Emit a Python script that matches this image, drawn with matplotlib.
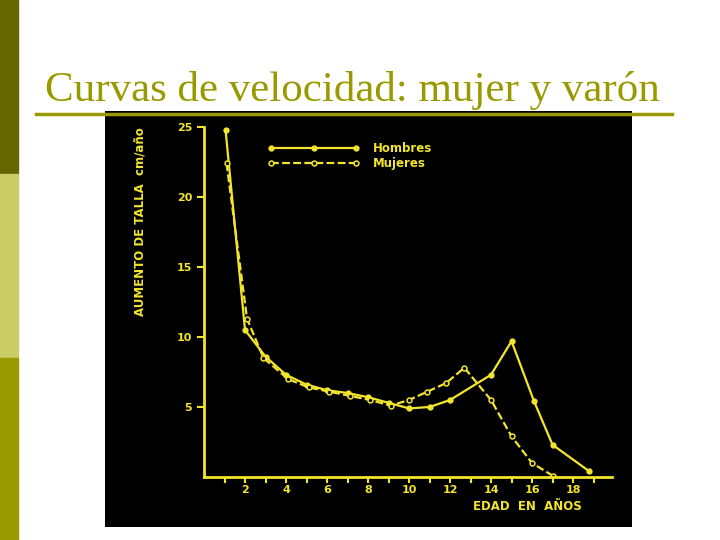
import matplotlib.pyplot as plt
from matplotlib.patches import Rectangle
from matplotlib.lines import Line2D

# Datos (velocidad de crecimiento, cm/año)
edad_hombres = [1.05, 2, 3, 4, 5, 6, 7, 8, 9, 10, 11, 12, 14, 15, 16.1, 17, 18.8]
vel_hombres = [24.8, 10.5, 8.6, 7.3, 6.6, 6.2, 6.0, 5.7, 5.3, 4.9, 5.0, 5.5, 7.3, 9.7, 5.4, 2.3, 0.4]

edad_mujeres = [1.1, 2.1, 2.9, 4.1, 5.1, 6.1, 7.1, 8.1, 9.1, 10, 10.9, 11.8, 12.7, 14, 15, 16, 17]
vel_mujeres = [22.4, 11.3, 8.5, 7.0, 6.4, 6.1, 5.8, 5.5, 5.1, 5.5, 6.1, 6.7, 7.8, 5.5, 2.9, 1.0, 0.1]

yticks = [5, 10, 15, 20, 25]
xticks = [2, 4, 6, 8, 10, 12, 14, 16, 18]

amarillo = '#f2e52c'
oliva = '#999900'
W, H = 720, 540

fig = plt.figure(figsize=(7.2, 5.4), dpi=100)
fig.patch.set_facecolor('white')

# barra lateral de la diapositiva
for y0, y1, c in [(0, 174, '#666600'), (174, 358, '#cccc66'), (358, 540, '#999900')]:
    fig.patches.append(Rectangle((0, 1 - y1 / H), 18 / W, (y1 - y0) / H,
                                 transform=fig.transFigure, color=c))

# título y línea
fig.text(45 / W, 1 - 101 / H, 'Curvas de velocidad: mujer y varón',
         family='Liberation Serif', fontsize=31, color=oliva, ha='left', va='baseline')
fig.add_artist(Line2D([36 / W, 672 / W], [1 - 114 / H, 1 - 114 / H],
                      transform=fig.transFigure, color=oliva, lw=2.5))

# fondo negro de la imagen
panel = fig.add_axes([105 / W, 1 - 527 / H, 527 / W, 416 / H])
panel.set_facecolor('black')
panel.set_xticks([])
panel.set_yticks([])
for s in panel.spines.values():
    s.set_visible(False)

# gráfico
ax = fig.add_axes([204 / W, 1 - 477 / H, 408 / W, 350 / H])
ax.patch.set_alpha(0)
ax.plot(edad_hombres, vel_hombres, color=amarillo, lw=1.6, marker='o', ms=3.5,
        mfc=amarillo, mec=amarillo, label='Hombres')
ax.plot(edad_mujeres, vel_mujeres, color=amarillo, lw=1.6, ls=(0, (3.5, 1.5)), marker='o', ms=3.5,
        mfc='black', mec=amarillo, mew=1.1, label='Mujeres')

ax.set_xlim(0, 19.9)
ax.set_ylim(0, 25)
ax.spines['top'].set_visible(False)
ax.spines['right'].set_visible(False)
ax.spines['left'].set_color(amarillo)
ax.spines['bottom'].set_color(amarillo)
ax.spines['left'].set_linewidth(2)
ax.spines['bottom'].set_linewidth(2)
ax.set_yticks(yticks)
ax.set_yticklabels([str(v) for v in yticks])
ax.set_xticks(range(1, 20), minor=True)
ax.set_xticks(xticks)
ax.set_xticklabels([str(v) for v in xticks])
ax.tick_params(colors=amarillo, width=1.5, length=5, labelsize=8)
ax.tick_params(axis='x', which='both', length=4, width=1.5, color=amarillo, pad=2)
for t in ax.get_xticklabels() + ax.get_yticklabels():
    t.set_fontweight('bold')

ax.legend(loc='upper left', bbox_to_anchor=(262 / W, 1 - 136 / H), bbox_transform=fig.transFigure,
          frameon=False, numpoints=3, handlelength=7.8, handletextpad=1.1, labelspacing=0.15,
          borderpad=0, prop={'weight': 'bold', 'size': 8.5}, labelcolor=amarillo)

fig.text(140 / W, 1 - 222 / H, 'AUMENTO DE TALLA  cm/año', rotation=90, color=amarillo,
         fontsize=8.5, fontweight='bold', ha='center', va='center')
fig.text(582 / W, 1 - 507 / H, 'EDAD  EN  AÑOS', color=amarillo, fontsize=8.5,
         fontweight='bold', ha='right', va='center')

fig.savefig('out.png', dpi=100, facecolor='white')
